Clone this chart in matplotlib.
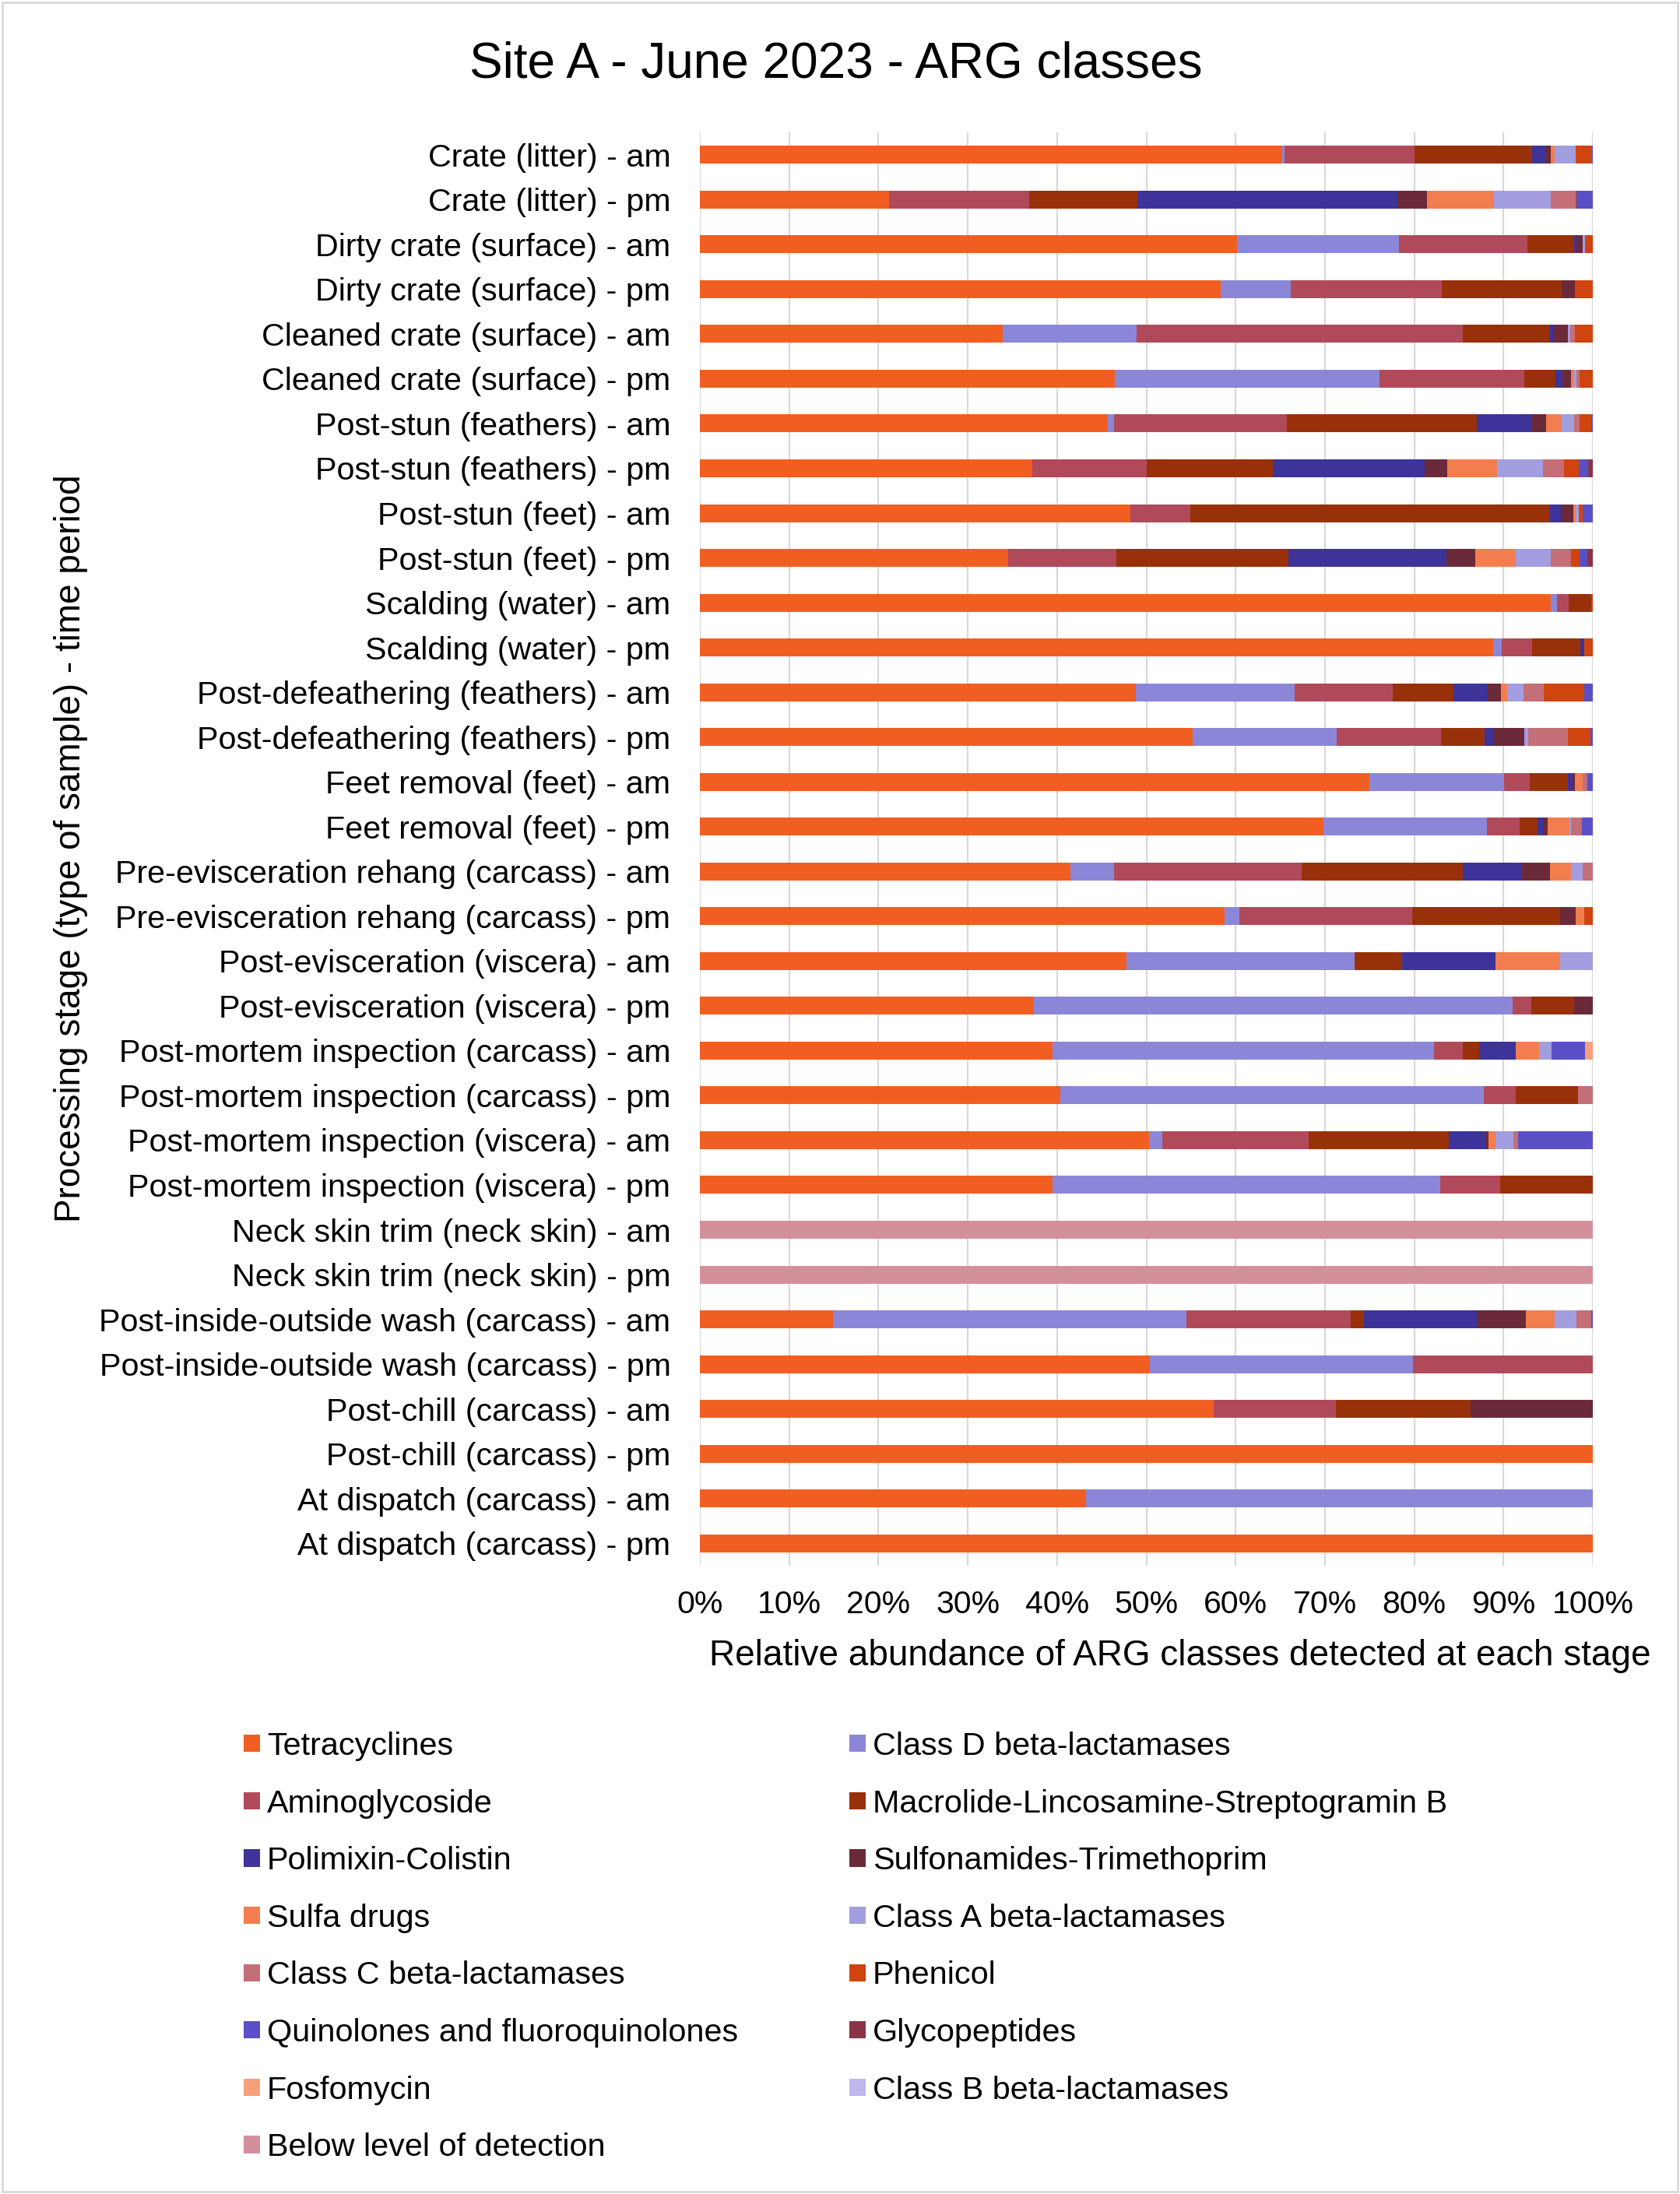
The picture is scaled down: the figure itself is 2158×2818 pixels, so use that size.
import matplotlib
matplotlib.use("Agg")
import matplotlib.pyplot as plt
from matplotlib.patches import Patch, Rectangle
import numpy as np

plt.rcParams['font.family'] = ['Liberation Sans', 'DejaVu Sans']

# Samples, top to bottom
stages = [
    "Crate (litter) - am", "Crate (litter) - pm",
    "Dirty crate (surface) - am", "Dirty crate (surface) - pm",
    "Cleaned crate (surface) - am", "Cleaned crate (surface) - pm",
    "Post-stun (feathers) - am", "Post-stun (feathers) - pm",
    "Post-stun (feet) - am", "Post-stun (feet) - pm",
    "Scalding (water) - am", "Scalding (water) - pm",
    "Post-defeathering (feathers) - am", "Post-defeathering (feathers) - pm",
    "Feet removal (feet) - am", "Feet removal (feet) - pm",
    "Pre-evisceration rehang (carcass) - am", "Pre-evisceration rehang (carcass) - pm",
    "Post-evisceration (viscera) - am", "Post-evisceration (viscera) - pm",
    "Post-mortem inspection (carcass) - am", "Post-mortem inspection (carcass) - pm",
    "Post-mortem inspection (viscera) - am", "Post-mortem inspection (viscera) - pm",
    "Neck skin trim (neck skin) - am", "Neck skin trim (neck skin) - pm",
    "Post-inside-outside wash (carcass) - am", "Post-inside-outside wash (carcass) - pm",
    "Post-chill (carcass) - am", "Post-chill (carcass) - pm",
    "At dispatch (carcass) - am", "At dispatch (carcass) - pm",
]

# Relative abundance (%) of each ARG class per sample
tetracyclines = [65.2, 21.2, 60.2, 58.3, 33.9, 46.5, 45.7, 37.2, 48.2, 34.5, 95.3, 88.8,
                 48.8, 55.2, 75.0, 69.8, 41.5, 58.8, 47.8, 37.4, 39.5, 40.4, 50.3, 39.5,
                 0, 0, 14.9, 50.4, 57.5, 100, 43.2, 100]
class_d = [0.3, 0, 18.1, 7.9, 15.0, 29.6, 0.7, 0, 0, 0, 0.7, 1.0,
           17.8, 16.1, 15.1, 18.3, 4.9, 1.6, 25.5, 53.6, 42.7, 47.4, 1.5, 43.4,
           0, 0, 39.6, 29.5, 0, 0, 56.8, 0]
aminoglycoside = [14.5, 15.7, 14.4, 16.9, 36.5, 16.2, 19.3, 12.8, 6.7, 12.1, 1.3, 3.4,
                  11.0, 11.7, 2.8, 3.7, 21.0, 19.4, 0, 2.1, 3.2, 3.6, 16.4, 6.7,
                  0, 0, 18.4, 20.1, 13.7, 0, 0, 0]
mlsb = [13.2, 12.1, 5.2, 13.4, 9.7, 3.5, 21.3, 14.2, 40.3, 19.3, 2.5, 5.4,
        6.8, 4.9, 4.3, 2.0, 18.0, 16.5, 5.3, 4.8, 1.9, 6.9, 15.7, 10.4,
        0, 0, 1.5, 0, 15.1, 0, 0, 0]
polimixin = [1.5, 29.1, 0.3, 0, 0.5, 0.8, 6.2, 17.0, 1.2, 17.7, 0, 0.4,
             3.8, 0.9, 0.5, 0.6, 6.7, 0, 10.5, 0, 4.1, 0, 4.1, 0,
             0, 0, 12.6, 0, 0, 0, 0, 0]
sulfonamides = [0.6, 3.3, 0.7, 1.5, 1.6, 1.0, 1.6, 2.5, 1.4, 3.2, 0, 0,
                1.5, 3.5, 0.3, 0.5, 3.1, 1.8, 0, 2.1, 0, 0, 0.3, 0,
                0, 0, 5.5, 0, 13.7, 0, 0, 0]
sulfa_drugs = [0.4, 7.5, 0, 0, 0, 0.3, 1.7, 5.6, 0.3, 4.6, 0, 0,
               0.7, 0, 0.9, 2.5, 2.4, 0.9, 7.2, 0, 2.6, 0, 0.8, 0,
               0, 0, 3.2, 0, 0, 0, 0, 0]
class_a = [2.4, 6.4, 0.2, 0, 0.3, 0.3, 1.4, 5.1, 0.3, 3.9, 0, 0,
           1.8, 0.5, 0, 0.2, 1.3, 0, 3.7, 0, 1.4, 0, 2.0, 0,
           0, 0, 2.5, 0, 0, 0, 0, 0]
class_c = [0, 2.8, 0, 0, 0.5, 0.3, 0.6, 2.4, 0, 2.3, 0, 0,
           2.3, 4.4, 0.5, 1.2, 1.1, 0, 0, 0, 0, 1.7, 0.5, 0,
           0, 0, 1.6, 0, 0, 0, 0, 0]
phenicol = [1.8, 0.1, 0.9, 2.0, 2.0, 1.5, 1.3, 1.6, 0.5, 0.9, 0.2, 1.0,
            4.5, 2.5, 0, 0, 0, 1.0, 0, 0, 0, 0, 0, 0,
            0, 0, 0, 0, 0, 0, 0, 0]
quinolones = [0.1, 1.8, 0, 0, 0, 0, 0.2, 1.1, 1.1, 0.9, 0, 0,
              1.0, 0.3, 0.6, 1.2, 0, 0, 0, 0, 3.7, 0, 8.4, 0,
              0, 0, 0.2, 0, 0, 0, 0, 0]
glycopeptides = [0, 0, 0, 0, 0, 0, 0, 0.5, 0, 0.6, 0, 0,
                 0, 0, 0, 0, 0, 0, 0, 0, 0, 0, 0, 0,
                 0, 0, 0, 0, 0, 0, 0, 0]
fosfomycin = [0, 0, 0, 0, 0, 0, 0, 0, 0, 0, 0, 0,
              0, 0, 0, 0, 0, 0, 0, 0, 0.9, 0, 0, 0,
              0, 0, 0, 0, 0, 0, 0, 0]
class_b = [0, 0, 0, 0, 0, 0, 0, 0, 0, 0, 0, 0,
           0, 0, 0, 0, 0, 0, 0, 0, 0, 0, 0, 0,
           0, 0, 0, 0, 0, 0, 0, 0]
below_lod = [0, 0, 0, 0, 0, 0, 0, 0, 0, 0, 0, 0,
             0, 0, 0, 0, 0, 0, 0, 0, 0, 0, 0, 0,
             100, 100, 0, 0, 0, 0, 0, 0]

series = [
    ("Tetracyclines", tetracyclines, "#F15E22"),
    ("Class D beta-lactamases", class_d, "#8C86D8"),
    ("Aminoglycoside", aminoglycoside, "#B04A5A"),
    ("Macrolide-Lincosamine-Streptogramin B", mlsb, "#98310A"),
    ("Polimixin-Colistin", polimixin, "#3D3399"),
    ("Sulfonamides-Trimethoprim", sulfonamides, "#6A2A3A"),
    ("Sulfa drugs", sulfa_drugs, "#F27E4F"),
    ("Class A beta-lactamases", class_a, "#A39EDF"),
    ("Class C beta-lactamases", class_c, "#C46E78"),
    ("Phenicol", phenicol, "#CF440F"),
    ("Quinolones and fluoroquinolones", quinolones, "#5A50C6"),
    ("Glycopeptides", glycopeptides, "#8B3446"),
    ("Fosfomycin", fosfomycin, "#F5A07A"),
    ("Class B beta-lactamases", class_b, "#BDB8EE"),
    ("Below level of detection", below_lod, "#D4909A"),
]

W, H = 2158, 2818
fig = plt.figure(figsize=(W / 100, H / 100), dpi=100)
ax = fig.add_axes([899 / W, 1 - 2011 / H, (2046 - 899) / W, (2011 - 170) / H])

y = np.arange(len(stages))
left = np.zeros(len(stages))
handles = []
for name, vals, color in series:
    vals = np.array(vals, dtype=float)
    ax.barh(y, vals, left=left, height=0.4, color=color, edgecolor='none', zorder=3)
    left += vals
    handles.append(Patch(facecolor=color, edgecolor='none', label=name))

ax.set_ylim(len(stages) - 0.5, -0.5)
ax.set_xlim(0, 100)
ax.set_xticks(np.arange(0, 101, 10))
ax.set_xticklabels([f"{v}%" for v in range(0, 101, 10)])
ax.set_yticks(y)
ax.set_yticklabels(stages)
ax.tick_params(axis='y', length=0, pad=27, labelsize=29.7)
ax.tick_params(axis='x', length=0, pad=22, labelsize=29.5)
ax.grid(axis='x', color='#D9D9D9', linewidth=1.6, zorder=0)
for s in ax.spines.values():
    s.set_visible(False)

fig.text(1074 / W, 1 - 82 / H, "Site A - June 2023 - ARG classes",
         ha='center', va='center', fontsize=46)
fig.text(1516 / W, 1 - 2127 / H,
         "Relative abundance of ARG classes detected at each stage",
         ha='center', va='center', fontsize=33)
fig.text(91 / W, 1 - 1090 / H, "Processing stage (type of sample) - time period",
         ha='center', va='center', rotation=90, fontsize=33)

# legend laid out row by row in two columns
legend_kw = dict(loc='upper left', frameon=False, fontsize=29.8, borderpad=0,
                 borderaxespad=0, handlelength=0.5, handleheight=0.45,
                 handletextpad=0.22, labelspacing=0.86)
fig.legend(handles=handles[0::2], bbox_to_anchor=(313 / W, 1 - 2224 / H), **legend_kw)
fig.legend(handles=handles[1::2], bbox_to_anchor=(1091 / W, 1 - 2224 / H), **legend_kw)

fig.add_artist(Rectangle((3 / W, 3 / H), 1 - 6 / W, 1 - 6 / H, transform=fig.transFigure,
                         fill=False, edgecolor='#D9D9D9', linewidth=2))

fig.savefig("out.png", dpi=100)
